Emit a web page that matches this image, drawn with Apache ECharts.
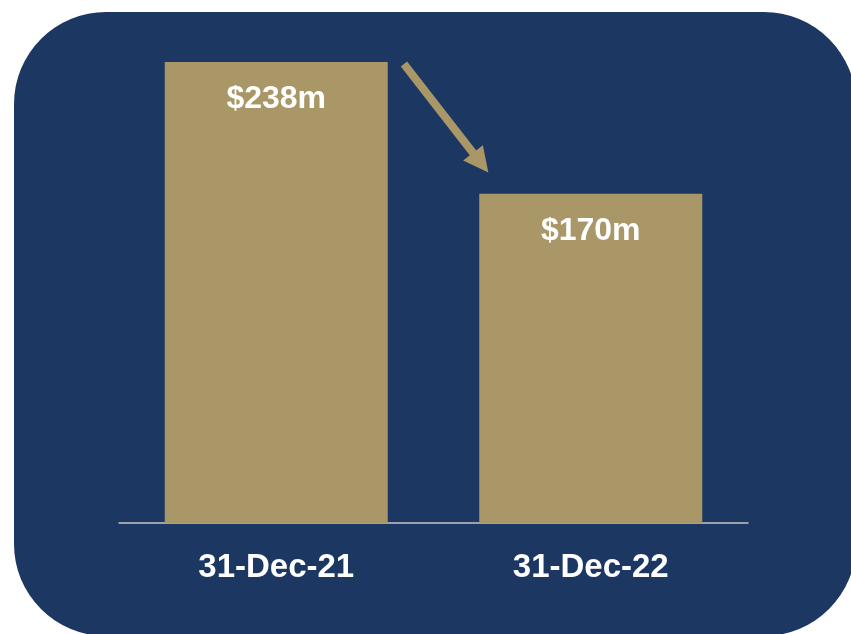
<!DOCTYPE html>
<html>
<head>
<meta charset="utf-8">
<script src="https://cdn.jsdelivr.net/npm/echarts@6/dist/echarts.min.js"></script>
<style>
  html, body { margin: 0; padding: 0; background: #ffffff; }
  #chart { width: 851px; height: 634px; }
</style>
</head>
<body>
<div id="chart"></div>
<script>
// Balance at each year end, in $m
const categories = ['31-Dec-21', '31-Dec-22'];
const values = [238, 170];
const valueLabels = ['$238m', '$170m'];
// Downward trend arrow, in [x position between bars, value] pairs
const arrowFrom = [0.406, 237];
const arrowTo = [0.650, 186];

const NAVY = '#1C3862';
const GOLD = '#A99767';

const chart = echarts.init(document.getElementById('chart'));

chart.setOption({
  backgroundColor: '#ffffff',
  animation: false,
  graphic: [{
    type: 'rect',
    z: -10,
    silent: true,
    shape: { x: 14, y: 12, width: 842, height: 624, r: 92 },
    style: { fill: NAVY }
  }],
  grid: { left: 119, right: 103, top: 62, bottom: 111 },
  xAxis: [{
    type: 'category',
    data: categories,
    axisLine: { lineStyle: { color: '#C4C4C4', width: 1.5 } },
    axisTick: { show: false },
    axisLabel: {
      color: '#ffffff',
      fontFamily: 'Liberation Sans, Arial, sans-serif',
      fontWeight: 'bold',
      fontSize: 33,
      margin: 28
    }
  }, {
    type: 'value',
    min: -0.5,
    max: 1.5,
    show: false
  }],
  yAxis: {
    type: 'value',
    min: 0,
    max: 238,
    show: false
  },
  series: [{
    type: 'bar',
    data: values,
    barWidth: 223,
    itemStyle: { color: GOLD },
    label: {
      show: true,
      position: 'insideTop',
      distance: 21,
      color: '#ffffff',
      fontFamily: 'Liberation Sans, Arial, sans-serif',
      fontWeight: 'bold',
      fontSize: 32,
      formatter: p => valueLabels[p.dataIndex]
    }
  }, {
    type: 'lines',
    coordinateSystem: 'cartesian2d',
    xAxisIndex: 1,
    yAxisIndex: 0,
    symbol: ['none', 'triangle'],
    symbolSize: [21, 25],
    lineStyle: { color: GOLD, width: 8, opacity: 1 },
    itemStyle: { color: GOLD },
    data: [{ coords: [arrowFrom, arrowTo] }]
  }]
});
</script>
</body>
</html>
